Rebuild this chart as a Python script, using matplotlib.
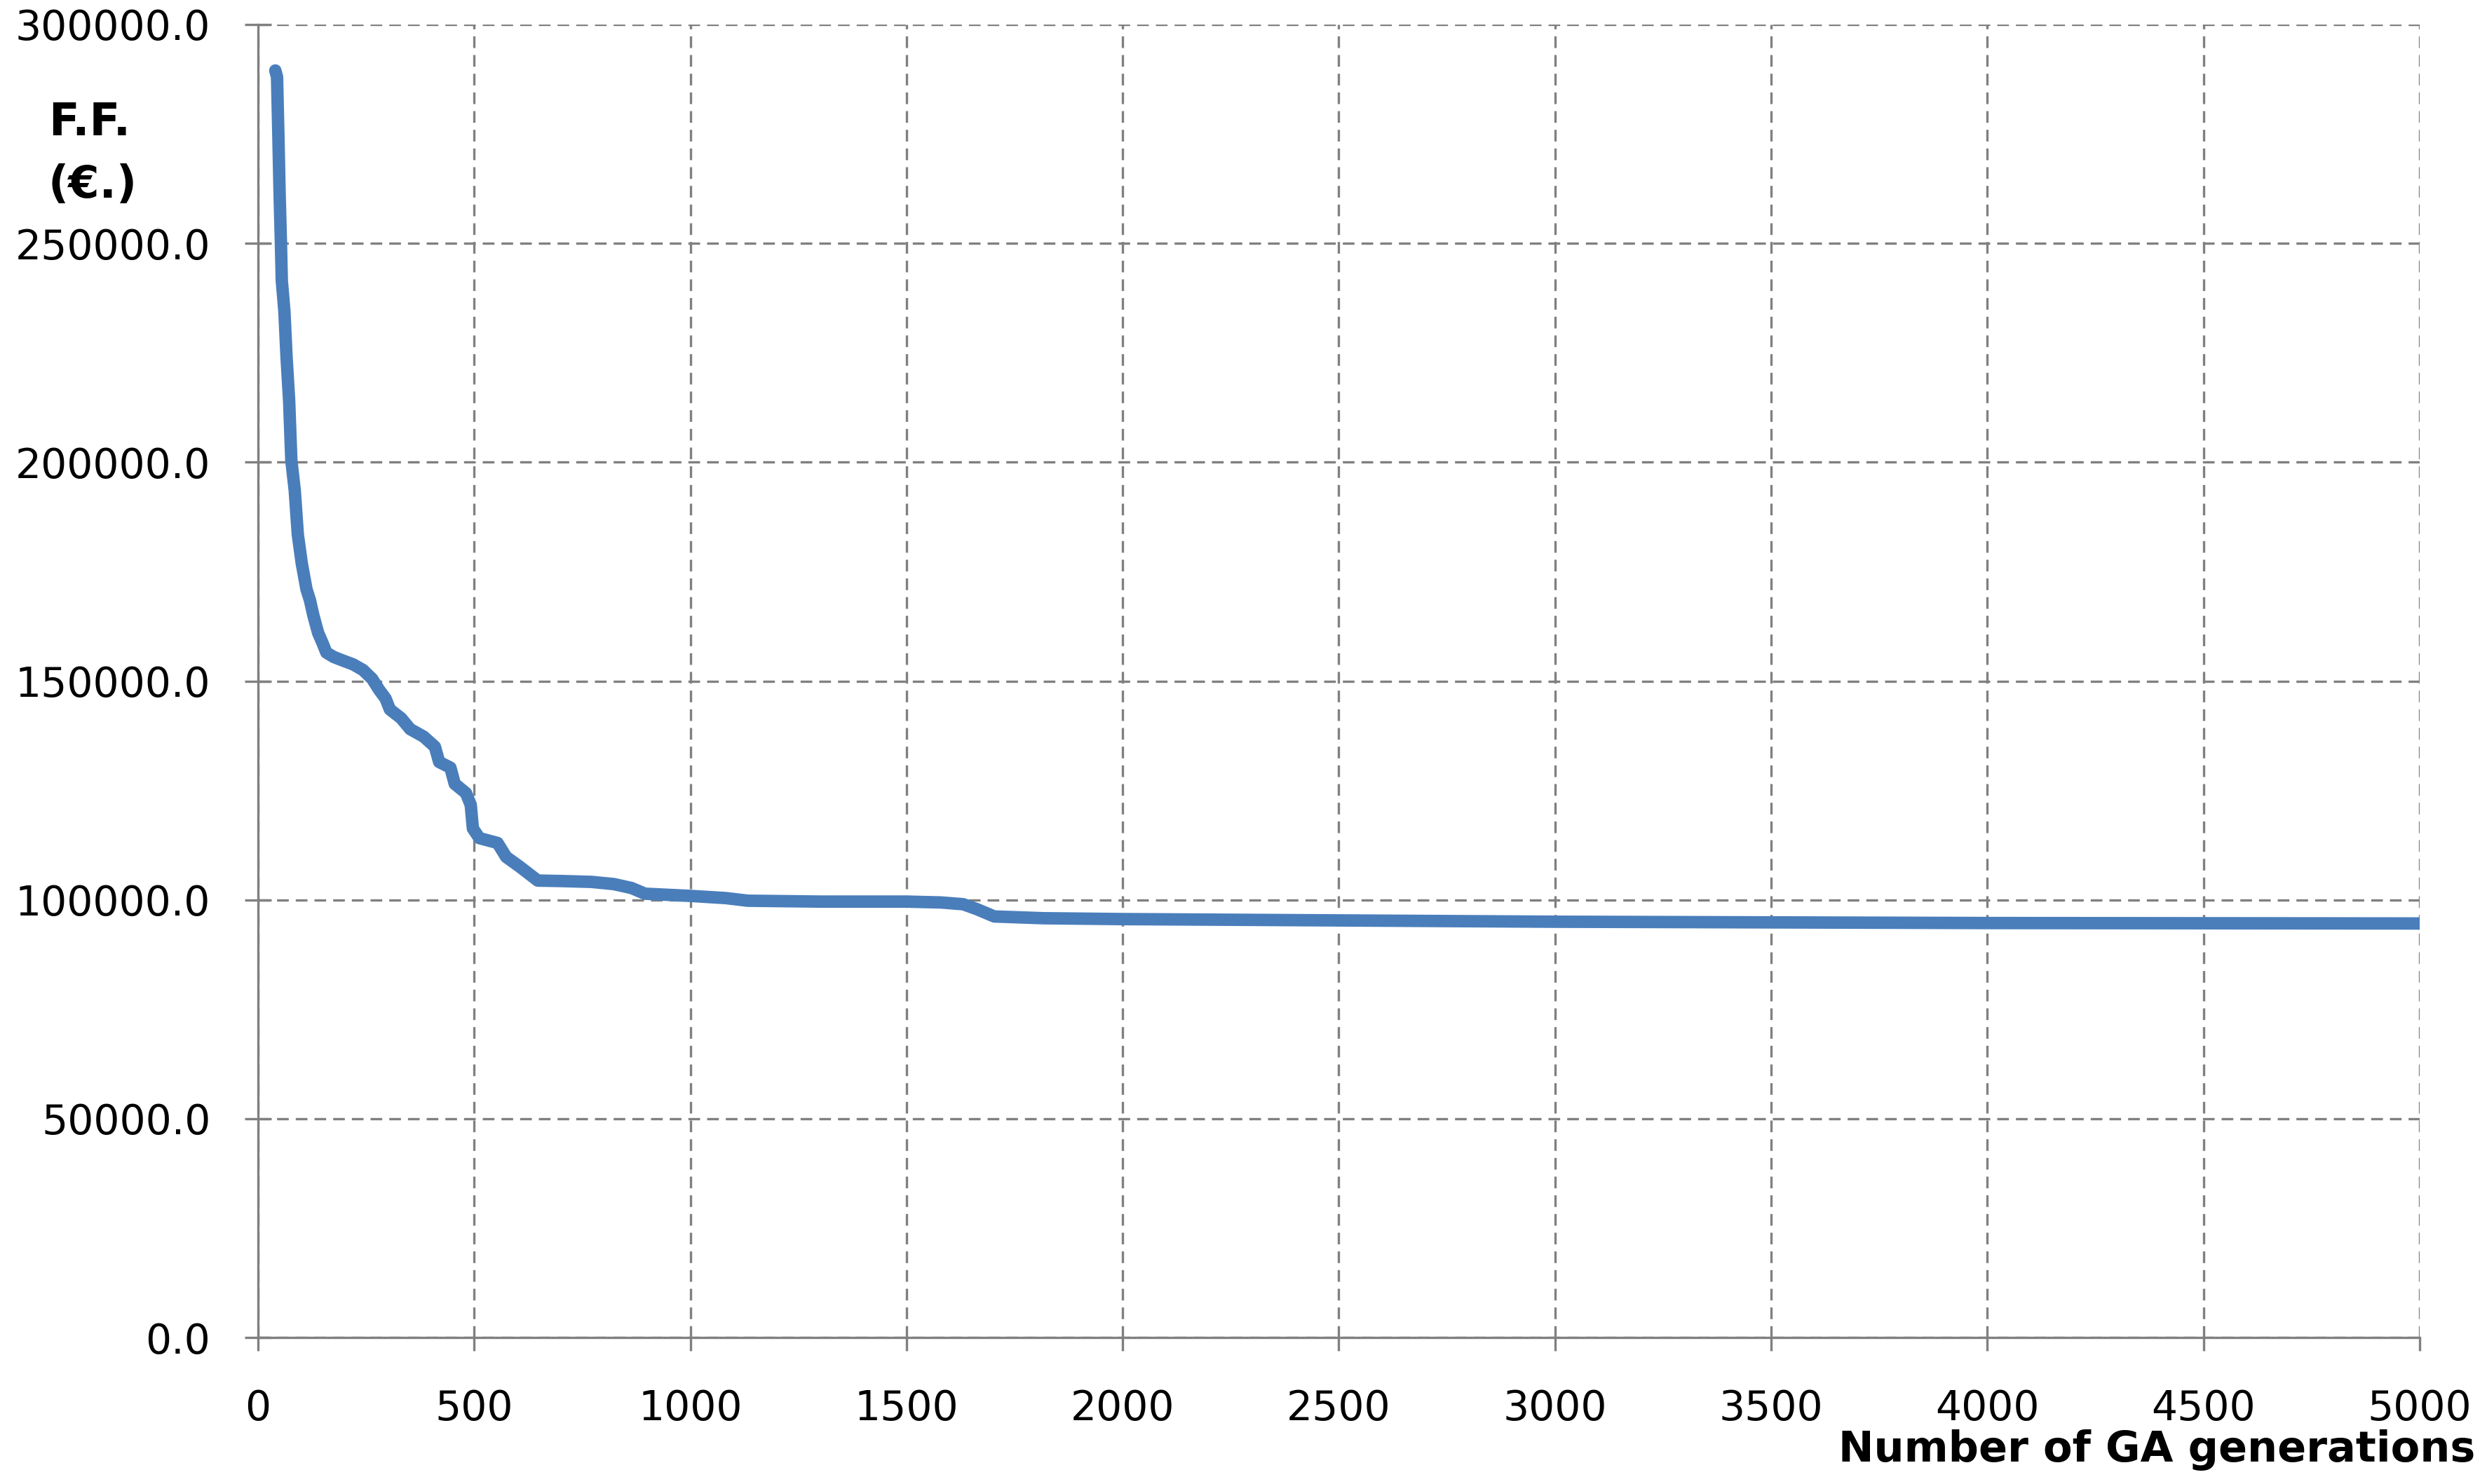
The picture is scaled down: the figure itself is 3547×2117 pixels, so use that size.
import matplotlib
matplotlib.use("Agg")
import matplotlib.pyplot as plt
from matplotlib.ticker import FuncFormatter, MultipleLocator

# --- data (fitness function vs. GA generation) ---
generations = [40, 44, 47, 50, 53, 55, 61, 66, 72, 77, 85, 92, 101, 112, 120,
               128, 139, 150, 158, 175, 193, 220, 243, 264, 280, 295, 305, 331,
               352, 383, 409, 419, 445, 455, 481, 492, 497, 512, 554, 574, 605,
               626, 647, 700, 771, 823, 864, 895, 1000, 1082, 1133, 1300, 1500,
               1580, 1631, 1662, 1703, 1817, 2000, 2500, 3000, 3500, 4000, 4500,
               5000]
fitness = [289500, 288000, 275000, 261000, 250000, 241500, 234500, 224000,
           214000, 200500, 193500, 183500, 177000, 171000, 168500, 165000,
           161000, 158500, 156500, 155500, 154800, 153800, 152500, 150500,
           148000, 146000, 143500, 141500, 139000, 137300, 135000, 131500,
           130200, 126500, 124400, 121700, 116300, 114100, 113000, 109800,
           107600, 106000, 104400, 104300, 104100, 103600, 102700, 101400,
           100900, 100400, 99800, 99600, 99600, 99400, 99000, 97900, 96200,
           95800, 95600, 95300, 95000, 94850, 94700, 94650, 94600]

x_ticks_step = 500
y_ticks_step = 50000
x_label = "Number of GA generations"
y_label_lines = ["F.F.", "(€.)"]

W, H = 3548, 2117
DPI = 200
fig = plt.figure(figsize=(W / DPI, H / DPI), dpi=DPI)
ax = fig.add_axes([368 / W, 1 - 1908 / H, (3451 - 368) / W, (1908 - 35) / H])

grey = "#808080"
ax.plot(generations, fitness, color="#4A7EBB", lw=6.4,
        solid_joinstyle="round", solid_capstyle="round", zorder=3)

ax.set_xlim(0, 5000)
ax.set_ylim(0, 300000)
ax.xaxis.set_major_locator(MultipleLocator(x_ticks_step))
ax.yaxis.set_major_locator(MultipleLocator(y_ticks_step))
ax.yaxis.set_major_formatter(FuncFormatter(lambda v, p: f"{v:.1f}"))

ax.grid(True, color=grey, lw=1.2, linestyle=(0, (5, 3)))
ax.set_axisbelow(True)

for s in ("top", "right"):
    ax.spines[s].set_visible(False)
for s in ("left", "bottom"):
    ax.spines[s].set_color(grey)
    ax.spines[s].set_linewidth(1.2)

ax.tick_params(axis="y", direction="inout", length=13.7, width=1.2,
               color=grey, pad=17.5, labelsize=21, labelcolor="black")
ax.tick_params(axis="x", direction="out", length=6.7, width=1.2,
               color=grey, pad=19.5, labelsize=21, labelcolor="black")

fig.text(69 / W, 1 - 193 / H, y_label_lines[0], fontsize=23,
         fontweight="bold", ha="left", va="baseline")
fig.text(69 / W, 1 - 282 / H, y_label_lines[1], fontsize=23,
         fontweight="bold", ha="left", va="baseline")
fig.text(3530 / W, 1 - 2085 / H, x_label, fontsize=21.8,
         fontweight="bold", ha="right", va="baseline")

fig.savefig("out.png", dpi=DPI)
